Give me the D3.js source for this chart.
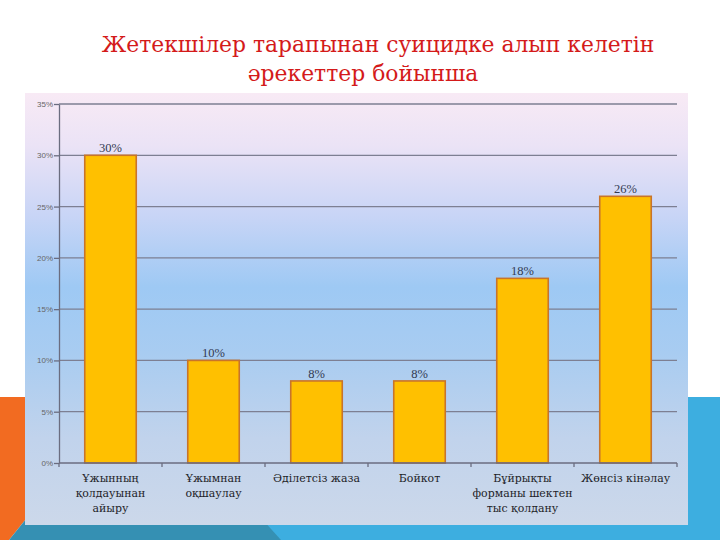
<!DOCTYPE html>
<html><head><meta charset="utf-8">
<script src="https://cdn.jsdelivr.net/npm/d3@7"></script>
</head><body style="margin:0">
<script>
const titleLines = ["Жетекшілер тарапынан суицидке алып келетін", "әрекеттер бойынша"];
const categories = [
  ["Ұжынның", "қолдауынан", "айыру"],
  ["Ұжымнан", "оқшаулау"],
  ["Әділетсіз жаза"],
  ["Бойкот"],
  ["Бұйрықты", "форманы шектен", "тыс қолдану"],
  ["Жөнсіз кінәлау"]
];
const values = [30, 10, 8, 8, 18, 26];
const yTicks = [0, 5, 10, 15, 20, 25, 30, 35];

const SERIF = "'DejaVu Serif', 'Liberation Serif', serif";
const W = 720, H = 540;
const svg = d3.select("body").append("svg").attr("width", W).attr("height", H).style("display", "block");
const defs = svg.append("defs");

// slide decorations
svg.append("rect").attr("width", W).attr("height", H).attr("fill", "#ffffff");
svg.append("polygon").attr("points", "0,397 26,397 26,519 9,540 0,540").attr("fill", "#f26b21");
svg.append("rect").attr("x", 686).attr("y", 397).attr("width", 34).attr("height", 143).attr("fill", "#3daee0");
svg.append("rect").attr("x", 260).attr("y", 520).attr("width", 460).attr("height", 20).attr("fill", "#3daee0");
svg.append("polygon").attr("points", "9,540 26,519 262,519 281,540").attr("fill", "#3590b3");

// panel
const grad = defs.append("linearGradient").attr("id", "bg").attr("x1", 0).attr("y1", 0).attr("x2", 0).attr("y2", 1);
[[0, "#f8eaf5"], [0.12, "#ebe3f6"], [0.28, "#c9d5f6"], [0.45, "#9ec9f4"], [0.6, "#a8ccf1"], [0.8, "#c1d3ec"], [1, "#ccd8ea"]]
  .forEach(([o, c]) => grad.append("stop").attr("offset", o).attr("stop-color", c));
svg.append("rect").attr("x", 25).attr("y", 93).attr("width", 663).attr("height", 432).attr("fill", "url(#bg)");

// title
const t1 = svg.append("text").attr("x", 378).attr("y", 52).attr("text-anchor", "middle")
  .style("font-family", SERIF).attr("font-size", 25).attr("fill", "#d41a1a").text(titleLines[0]);
const tfs = Math.max(20, Math.min(32, 25 * 553 / t1.node().getComputedTextLength()));
t1.attr("font-size", tfs);
svg.append("text").attr("x", 363).attr("y", 81).attr("text-anchor", "middle")
  .style("font-family", SERIF).attr("font-size", tfs).attr("fill", "#d41a1a").text(titleLines[1]);

// scales
const x = d3.scaleBand().domain(d3.range(categories.length)).range([59, 677]).paddingInner(0.5).paddingOuter(0.25);
const y = d3.scaleLinear().domain([0, 35]).range([463, 104]);

// gridlines
svg.append("g").selectAll("line").data(yTicks.filter(d => d > 0)).join("line")
  .attr("x1", 59).attr("x2", 677).attr("y1", d => y(d)).attr("y2", d => y(d))
  .attr("stroke", "#7d7f92").attr("stroke-width", 1.3);

// y axis
const yAxis = svg.append("g").attr("transform", "translate(59,0)")
  .call(d3.axisLeft(y).tickValues(yTicks).tickFormat(d => d + "%").tickSize(5).tickSizeOuter(0));
yAxis.select(".domain").attr("stroke", "#6b6d80").attr("stroke-width", 1.3);
yAxis.selectAll(".tick line").attr("stroke", "#6b6d80").attr("stroke-width", 1.3);
yAxis.selectAll(".tick text").attr("fill", "#666").style("font-family", "'Liberation Sans', Arial, sans-serif").attr("font-size", 8).attr("x", -6);

// bars
svg.append("g").selectAll("rect").data(values).join("rect")
  .attr("x", (d, i) => x(i)).attr("width", x.bandwidth())
  .attr("y", d => y(d)).attr("height", d => y(0) - y(d))
  .attr("fill", "#ffc000").attr("stroke", "#c8742a").attr("stroke-width", 1.6);

// value labels
svg.append("g").selectAll("text").data(values).join("text")
  .attr("x", (d, i) => x(i) + x.bandwidth() / 2).attr("y", d => y(d) - 3)
  .attr("text-anchor", "middle").attr("fill", "#333a52")
  .style("font-family", "'Liberation Serif', serif").attr("font-size", 12.5)
  .text(d => d + "%");

// x axis
const xb = d3.scaleLinear().domain([0, categories.length]).range([59, 677]);
svg.append("line").attr("x1", 59).attr("x2", 677).attr("y1", 463).attr("y2", 463).attr("stroke", "#6b6d80").attr("stroke-width", 1.3);
svg.append("g").selectAll("line").data(d3.range(categories.length + 1)).join("line")
  .attr("x1", d => xb(d)).attr("x2", d => xb(d)).attr("y1", 463).attr("y2", 467)
  .attr("stroke", "#6b6d80").attr("stroke-width", 1.3);

// category labels (size fitted so the widest line spans ~100px as in the reference)
const probe = svg.append("text").style("font-family", SERIF).attr("font-size", 12).text(categories[4][1]);
const cfs = Math.max(10, Math.min(13, 12 * 100 / probe.node().getComputedTextLength()));
probe.remove();
categories.forEach((lines, i) => {
  const cx = x(i) + x.bandwidth() / 2;
  lines.forEach((ln, j) => svg.append("text").attr("x", cx).attr("y", 482 + j * 15)
    .attr("text-anchor", "middle").style("font-family", SERIF).attr("font-size", cfs)
    .attr("fill", "#1e1e28").text(ln));
});
</script>
</body></html>
